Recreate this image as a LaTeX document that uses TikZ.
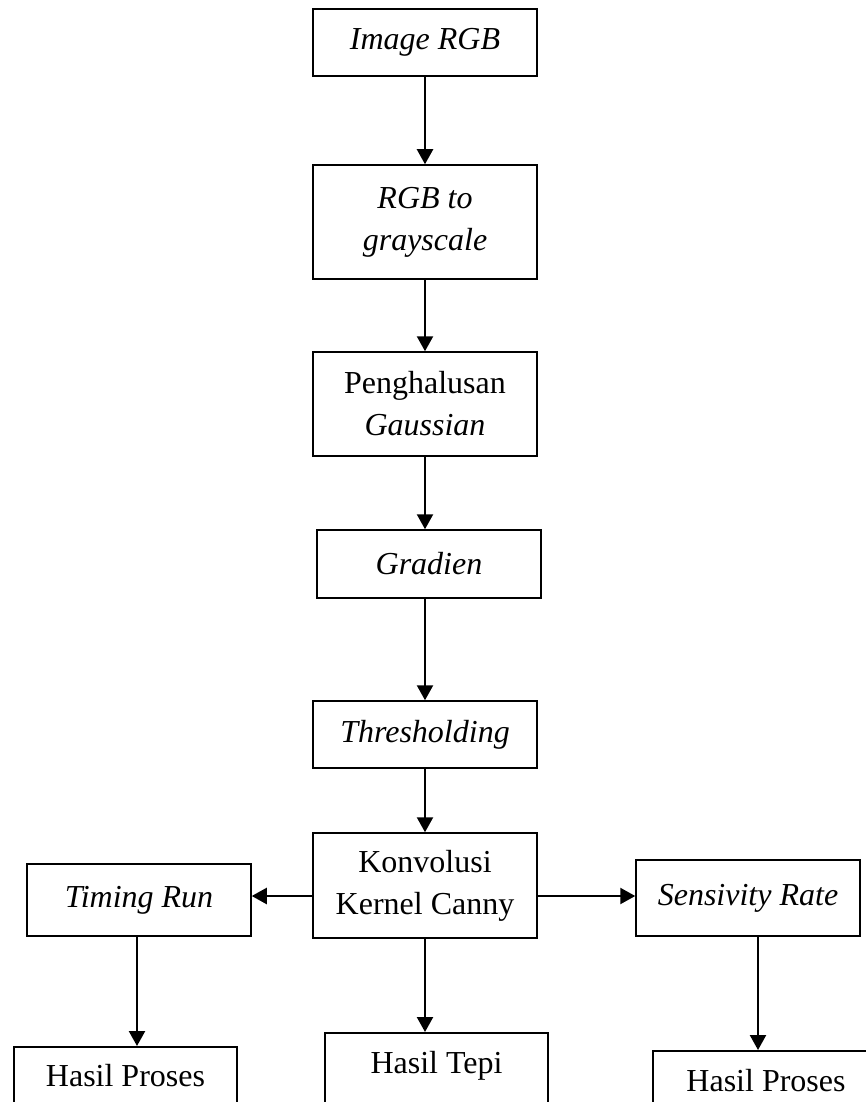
\documentclass[tikz,border=0pt]{standalone}
\usepackage{fontspec}
\setmainfont{Liberation Serif}
\usetikzlibrary{arrows.meta}
\begin{document}
\begin{tikzpicture}[x=1pt,y=-1pt,
  box/.style={draw, line width=1.5pt, inner sep=0pt, align=center,
    font=\fontsize{32}{42}\selectfont, minimum width=224pt},
  openbox/.style={box, anchor=north, text height=40pt, text depth=45pt},
  arr/.style={line width=2.3pt, -{Triangle[width=16pt,length=15pt]}}]
\useasboundingbox (0,0) rectangle (866,1102);
\node[box, minimum height=67pt] (img) at (425,42.5) {\textit{Image RGB}};
\node[box, minimum height=114pt] (rgb) at (425,222) {\textit{RGB to}\\\textit{grayscale}};
\node[box, minimum height=104pt] (pen) at (425,404) {Penghalusan\\\textit{Gaussian}};
\node[box, minimum height=68pt] (grad) at (429,564) {\textit{Gradien}};
\node[box, minimum height=67pt] (thr) at (425,734.5) {\textit{Thresholding}};
\node[box, minimum height=105pt] (konv) at (425,885.5) {Konvolusi\\Kernel Canny};
\node[box, minimum height=72pt] (tim) at (139,900) {\textit{Timing Run}};
\node[box, minimum height=76pt] (sen) at (748,898) {\textit{Sensivity Rate}};
\node[openbox, minimum width=223pt, text height=40pt] (hp1) at (125.5,1046) {Hasil Proses};
\node[openbox, minimum width=223pt, text height=41pt] (tepi) at (436.5,1032) {Hasil Tepi};
\node[openbox, minimum width=226pt, text height=41pt] (hp2) at (766,1050) {Hasil Proses};

\draw[arr] (img) -- (rgb);
\draw[arr] (rgb) -- (pen);
\draw[arr] (pen.south) -- (pen.south |- grad.north);
\draw[arr] (thr.north |- grad.south) -- (thr.north);
\draw[arr] (thr) -- (konv);
\draw[arr] ([yshift=-10.5pt]konv.west) -- ([yshift=-10.5pt]konv.west -| tim.east);
\draw[arr] ([yshift=-10.5pt]konv.east) -- ([yshift=-10.5pt]konv.east -| sen.west);
\draw[arr] (konv.south) -- (konv.south |- tepi.north);
\draw[arr] ([xshift=-2pt]tim.south) -- ([xshift=-2pt]tim.south |- hp1.north);
\draw[arr] ([xshift=10pt]sen.south) -- ([xshift=10pt]sen.south |- hp2.north);
\end{tikzpicture}
\end{document}
